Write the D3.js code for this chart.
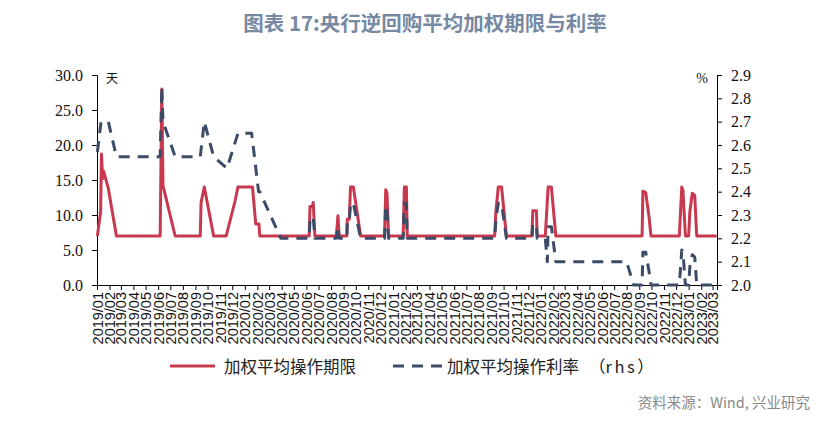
<!DOCTYPE html>
<html><head><meta charset="utf-8">
<script src="https://cdn.jsdelivr.net/npm/d3@7"></script>
<style>
html,body{margin:0;padding:0;background:#fff;}
svg{display:block;}
</style></head>
<body>
<svg id="chart" width="839" height="421"></svg>
<script>
// ---------------- data ----------------
const tenorDates = ["2019-01-02","2019-01-10","2019-01-12","2019-01-15","2019-01-17","2019-01-29","2019-02-18",
 "2019-06-06","2019-06-10","2019-06-13","2019-07-13",
 "2019-09-13","2019-09-15","2019-09-23","2019-10-16",
 "2019-11-16","2019-12-08","2019-12-15","2020-01-20","2020-01-28","2020-02-05","2020-02-07",
 "2020-06-08","2020-06-10","2020-06-16","2020-06-18","2020-06-22",
 "2020-08-14","2020-08-18","2020-08-21",
 "2020-09-09","2020-09-10","2020-09-15","2020-09-18","2020-09-25","2020-10-13",
 "2020-12-11","2020-12-14","2020-12-17","2020-12-21",
 "2021-01-26","2021-01-29","2021-02-03","2021-02-05",
 "2021-09-09","2021-09-12","2021-09-18","2021-09-26","2021-10-08",
 "2021-12-10","2021-12-12","2021-12-21","2021-12-23",
 "2022-01-12","2022-01-19","2022-01-27","2022-02-07",
 "2022-09-08","2022-09-10","2022-09-17","2022-09-25","2022-09-30",
 "2022-12-09","2022-12-15","2022-12-18","2022-12-24",
 "2023-01-01","2023-01-04","2023-01-10","2023-01-16","2023-01-21","2023-03-11"];
const tenorValues = [7,10.5,18.7,15.2,16.3,13.8,7,
 7,28,14.2,7,
 7,11.8,14,7,
 7,12,14,14,8.7,8.7,7,
 7,11.2,11.2,11.8,7,
 7,9.9,7,
 7,9.4,9.4,14,14,7,
 7,13.6,13.2,7,
 7,14,14,7,
 7,10.5,14,14,7,
 7,10.6,10.6,7,
 7,14,14,7,
 7,13.4,13.2,9.8,7,
 7,14,13.5,7,
 7,10.5,13.1,12.8,7,7];

const rateDates = ["2019-01-02","2019-01-11","2019-01-29","2019-02-18",
 "2019-06-06","2019-06-10","2019-06-13","2019-07-13",
 "2019-09-13","2019-09-23","2019-10-16","2019-11-18","2019-12-15","2020-01-18","2020-02-04","2020-02-07","2020-03-30",
 "2020-06-08","2020-06-10","2020-06-16","2020-06-18","2020-06-22",
 "2020-08-14","2020-08-18","2020-08-21",
 "2020-09-09","2020-09-10","2020-09-15","2020-09-18","2020-09-25","2020-10-13",
 "2020-12-11","2020-12-14","2020-12-17","2020-12-21",
 "2021-01-26","2021-01-29","2021-02-03","2021-02-05",
 "2021-09-09","2021-09-12","2021-09-18","2021-09-26","2021-10-08",
 "2021-12-10","2021-12-12","2021-12-21","2021-12-23",
 "2022-01-12","2022-01-17","2022-01-19","2022-01-27","2022-02-07",
 "2022-08-01","2022-08-18",
 "2022-09-08","2022-09-10","2022-09-17","2022-09-25","2022-09-30",
 "2022-12-09","2022-12-15","2022-12-18","2022-12-24",
 "2023-01-01","2023-01-04","2023-01-10","2023-01-16","2023-01-21","2023-03-11"];
const rateValues = [2.57,2.70,2.70,2.55,
 2.55,2.85,2.70,2.55,
 2.55,2.70,2.55,2.50,2.65,2.65,2.40,2.40,2.20,
 2.20,2.28,2.28,2.29,2.20,
 2.20,2.25,2.20,
 2.20,2.27,2.27,2.35,2.35,2.20,
 2.20,2.34,2.33,2.20,
 2.20,2.35,2.35,2.20,
 2.20,2.28,2.35,2.35,2.20,
 2.20,2.26,2.26,2.20,
 2.20,2.10,2.25,2.25,2.10,
 2.10,2.00,
 2.00,2.14,2.14,2.06,2.00,
 2.00,2.15,2.14,2.00,
 2.00,2.08,2.13,2.12,2.00,2.00];

const leftTicks = [0,5,10,15,20,25,30];
const rightTicks = [2.0,2.1,2.2,2.3,2.4,2.5,2.6,2.7,2.8,2.9];
const xStart = "2019-01-01", xEnd = "2023-03-12";
const seriesNames = ["加权平均操作期限","加权平均操作利率"];
const rhsTag = ["（","rhs","）"];
const titleText = "图表 17:央行逆回购平均加权期限与利率";
const sourceText = "资料来源：Wind, 兴业研究";

// ---------------- drawing ----------------
const parse = d3.timeParse("%Y-%m-%d");
const svg = d3.select("#chart");
const L = 97, R = 717, T = 75, B = 285;

const x = d3.scaleTime().domain([parse(xStart), parse(xEnd)]).range([L, R]);
const yL = d3.scaleLinear().domain([0,30]).range([B, T]);
const yR = d3.scaleLinear().domain([2.0,2.9]).range([B, T]);

const red = "#C8384F", blue = "#3C4B68";

// title
svg.append("text").attr("x",425).attr("y",22).attr("text-anchor","middle")
  .attr("dominant-baseline","central")
  .style("font-family","'Noto Sans CJK SC','Noto Sans',sans-serif").style("font-weight","bold")
  .style("font-size","20.5px").style("fill","#7689A3").text(titleText);

// axes
const serif = "'Liberation Serif','Times New Roman',serif";
const gL = svg.append("g").attr("transform",`translate(${L},0)`)
  .call(d3.axisLeft(yL).tickValues(leftTicks).tickFormat(d3.format(".1f")).tickSizeOuter(0).tickSize(5).tickPadding(9));
const gR = svg.append("g").attr("transform",`translate(${R},0)`)
  .call(d3.axisRight(yR).tickValues(rightTicks).tickFormat(d3.format(".1f")).tickSizeOuter(0).tickSize(5).tickPadding(9));
[gL,gR].forEach(g=>{
  g.selectAll("text").style("font-family",serif).style("font-size","16px").style("fill","#111");
  g.select(".domain").attr("stroke","#000");
  g.selectAll(".tick line").attr("stroke","#000");
});

const months = d3.timeMonth.range(parse("2019-01-01"), parse("2023-03-02"));
const gX = svg.append("g").attr("transform",`translate(0,${B})`)
  .call(d3.axisBottom(x).tickValues(months).tickFormat(d3.timeFormat("%Y/%m")).tickSizeOuter(0).tickSize(5));
gX.select(".domain").attr("stroke","#000");
gX.selectAll(".tick line").attr("stroke","#000");
gX.selectAll(".tick text")
  .attr("transform","rotate(-90)").attr("x",-7).attr("y",0).attr("dy","0.35em")
  .attr("text-anchor","end")
  .style("font-family","'Liberation Sans',Arial,sans-serif").style("font-size","14.5px").style("fill","#111");

// unit labels
svg.append("text").attr("x",112).attr("y",77).attr("text-anchor","middle").attr("dominant-baseline","central")
  .style("font-family","'Noto Sans CJK SC',sans-serif").style("font-size","12px").style("fill","#111").text("天");
svg.append("text").attr("x",702).attr("y",78).attr("text-anchor","middle").attr("dominant-baseline","central")
  .style("font-family",serif).style("font-size","14px").style("fill","#111").text("%");

// lines
const tenorData = tenorDates.map((d,i)=>({d:parse(d), v:tenorValues[i]}));
const rateData = rateDates.map((d,i)=>({d:parse(d), v:rateValues[i]}));

svg.append("path").datum(tenorData)
  .attr("fill","none").attr("stroke",red).attr("stroke-width",3).attr("stroke-linejoin","round")
  .attr("d", d3.line().x(p=>x(p.d)).y(p=>yL(p.v)));
svg.append("path").datum(rateData)
  .attr("fill","none").attr("stroke",blue).attr("stroke-width",3).attr("stroke-dasharray","11,8")
  .attr("stroke-linejoin","round")
  .attr("d", d3.line().x(p=>x(p.d)).y(p=>yR(p.v)));

// legend
const cjk = "'Noto Sans CJK SC',sans-serif";
const lg = svg.append("g");
lg.append("line").attr("x1",170).attr("x2",215).attr("y1",366).attr("y2",366).attr("stroke",red).attr("stroke-width",3);
lg.append("text").attr("x",224).attr("y",366).attr("dominant-baseline","central")
  .style("font-family",cjk).style("font-size","16.5px").style("fill","#222").text(seriesNames[0]);
lg.append("line").attr("x1",393).attr("x2",443).attr("y1",366).attr("y2",366).attr("stroke",blue).attr("stroke-width",3)
  .attr("stroke-dasharray","11,8");
const t2 = lg.append("text").attr("x",447).attr("y",366).attr("dominant-baseline","central")
  .style("font-family",cjk).style("font-size","16.5px").style("fill","#222");
t2.append("tspan").text(seriesNames[1]);
t2.append("tspan").attr("dx",10).text(rhsTag[0]);
t2.append("tspan").style("letter-spacing","2.5px").text(rhsTag[1]);
t2.append("tspan").text(rhsTag[2]);

// source
svg.append("text").attr("x",810).attr("y",401).attr("text-anchor","end").attr("dominant-baseline","central")
  .style("font-family","'Noto Sans CJK SC','Noto Sans',sans-serif").style("font-size","14.5px").style("fill","#8a8a8a").text(sourceText);
</script>
</body></html>
